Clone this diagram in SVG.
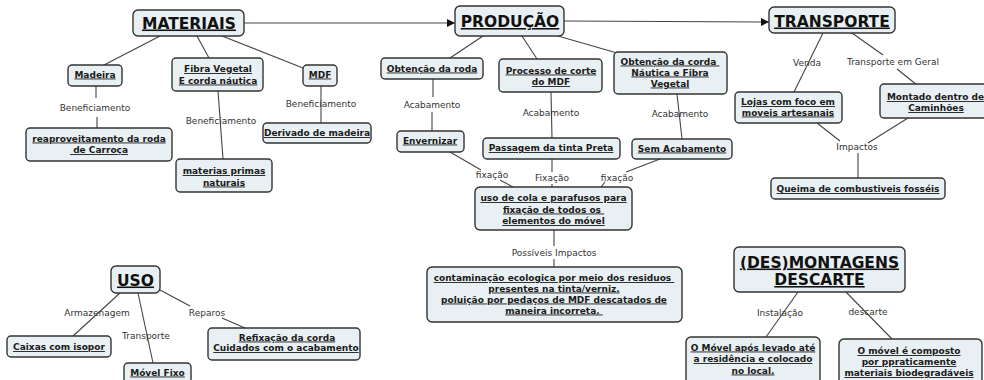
<svg xmlns="http://www.w3.org/2000/svg" width="984" height="380" viewBox="0 0 984 380">
<style>
.box{fill:#e9f0f3;stroke:#333;stroke-width:1.4}
.h{font-family:"DejaVu Sans",Verdana,sans-serif;font-weight:bold;font-size:15.5px;fill:#111;text-anchor:middle;text-decoration:underline}
.t{font-family:"DejaVu Sans",Verdana,sans-serif;font-weight:bold;font-size:9px;fill:#1a1a1a;text-anchor:middle;text-decoration:underline;white-space:pre}
.l{font-family:"DejaVu Sans",Verdana,sans-serif;font-size:9px;fill:#333;text-anchor:middle}
.c{stroke:#444;stroke-width:1.1;fill:none}
</style>
<defs>
<marker id="arr" viewBox="0 0 10 10" refX="10" refY="5" markerWidth="8" markerHeight="8" markerUnits="userSpaceOnUse" orient="auto">
<path d="M0,0 L10,5 L0,10 z" fill="#111"/>
</marker>
</defs>
<rect width="984" height="380" fill="#ffffff"/>
<g id="connectors">
<path class="c" d="M244,23 L455,23" marker-end="url(#arr)"/>
<path class="c" d="M564,21 L769,22" marker-end="url(#arr)"/>
<path class="c" d="M160,36 L104,65"/>
<path class="c" d="M197,36 L209,58"/>
<path class="c" d="M222,36 L303,68"/>
<path class="c" d="M96,86 L96,98 M97,117 L97,128"/>
<path class="c" d="M218,91 L223,159"/>
<path class="c" d="M321,86 L321,123"/>
<path class="c" d="M483,36 L450,58"/>
<path class="c" d="M522,36 L537,59"/>
<path class="c" d="M558,36 L617,53"/>
<path class="c" d="M433,79 L433,97 M432,112 L432,131"/>
<path class="c" d="M551,92 L552,138"/>
<path class="c" d="M677,94 L682,139"/>
<path class="c" d="M450,152 L481,170 M500,180 L513,187"/>
<path class="c" d="M552,159 L552,172 M552,184 L552,187"/>
<path class="c" d="M660,159 L626,172 M605,182 L601,187"/>
<path class="c" d="M554,230 L554,246 M554,259 L554,267"/>
<path class="c" d="M823,33 L794,92"/>
<path class="c" d="M852,33 L883,55 M897,69 L917,85"/>
<path class="c" d="M817,123 L840,141 M908,118 L868,143 M858,153 L858,178"/>
<path class="c" d="M120,293 L73,336"/>
<path class="c" d="M138,293 L153,363"/>
<path class="c" d="M160,290 L190,306 M222,318 L245,328"/>
<path class="c" d="M798,292 L766,337"/>
<path class="c" d="M846,292 L892,339"/>
</g>
<g id="labels">
<text class="l" x="95" y="110.5">Beneficiamento</text>
<text class="l" x="221" y="123.5">Beneficiamento</text>
<text class="l" x="321" y="106.5">Beneficiamento</text>
<text class="l" x="432" y="107.5">Acabamento</text>
<text class="l" x="551" y="115.5">Acabamento</text>
<text class="l" x="680" y="116.5">Acabamento</text>
<text class="l" x="492" y="177.5">fixação</text>
<text class="l" x="552" y="181">Fixação</text>
<text class="l" x="617" y="181">fixação</text>
<text class="l" x="554" y="255.5">Possíveis Impactos</text>
<text class="l" x="807" y="66">Venda</text>
<text class="l" x="893" y="65">Transporte em Geral</text>
<text class="l" x="857" y="150">Impactos</text>
<text class="l" x="97" y="315.5">Armazenagem</text>
<text class="l" x="146" y="338.5">Transporte</text>
<text class="l" x="207" y="315.5">Reparos</text>
<text class="l" x="780" y="315.5">Instalação</text>
<text class="l" x="868" y="314.5">descarte</text>
</g>
<g id="materiais"><rect class="box" x="133" y="10" width="111" height="26" rx="5"/><text class="h" x="189" y="28.5">MATERIAIS</text></g>
<g id="producao"><rect class="box" x="455" y="6" width="109" height="30" rx="5"/><text class="h" x="510" y="27">PRODUÇÃO</text></g>
<g id="transporte"><rect class="box" x="769" y="7" width="126" height="26" rx="5"/><text class="h" x="832" y="26.5">TRANSPORTE</text></g>
<g id="madeira"><rect class="box" x="68" y="65" width="54" height="21" rx="4"/><text class="t" x="95" y="77.5">Madeira</text></g>
<g id="fibra"><rect class="box" x="172" y="58" width="91" height="33" rx="4"/><text class="t" x="218" y="72">Fibra Vegetal</text><text class="t" x="218" y="83.5">E corda náutica</text></g>
<g id="mdf"><rect class="box" x="303" y="65" width="34" height="21" rx="4"/><text class="t" x="320" y="77.5">MDF</text></g>
<g id="reaproveitamento"><rect class="box" x="26" y="128" width="146" height="33" rx="4"/><text class="t" x="99" y="141.5">reaproveitamento da roda</text><text class="t" x="99" y="153"> de Carroça</text></g>
<g id="materias-primas"><rect class="box" x="176" y="159" width="96" height="33" rx="4"/><text class="t" x="224" y="174">materias primas</text><text class="t" x="224" y="185.5">naturais</text></g>
<g id="derivado"><rect class="box" x="263" y="123" width="108" height="20" rx="4"/><text class="t" x="317" y="136">Derivado de madeira</text></g>
<g id="obtencao-roda"><rect class="box" x="381" y="58" width="102" height="21" rx="4"/><text class="t" x="432" y="71.5">Obtenção da roda</text></g>
<g id="processo-corte"><rect class="box" x="499" y="59" width="103" height="33" rx="4"/><text class="t" x="551" y="73.5">Processo de corte</text><text class="t" x="551" y="85">do MDF</text></g>
<g id="obtencao-corda"><rect class="box" x="614" y="52" width="113" height="42" rx="4"/><text class="t" x="670" y="64.5">Obtenção da corda </text><text class="t" x="670" y="75.5">Náutica e Fibra</text><text class="t" x="670" y="86.5">Vegetal</text></g>
<g id="envernizar"><rect class="box" x="397" y="131" width="67" height="21" rx="4"/><text class="t" x="430" y="143.5">Envernizar</text></g>
<g id="passagem"><rect class="box" x="483" y="138" width="137" height="21" rx="4"/><text class="t" x="551" y="151">Passagem da tinta Preta</text></g>
<g id="sem-acabamento"><rect class="box" x="632" y="139" width="100" height="20" rx="4"/><text class="t" x="682" y="151.5">Sem Acabamento</text></g>
<g id="uso-cola"><rect class="box" x="475" y="187" width="157" height="43" rx="5"/><text class="t" x="553.5" y="201">uso de cola e parafusos para</text><text class="t" x="553.5" y="212.5">fixação de todos os </text><text class="t" x="553.5" y="224">elementos do móvel</text></g>
<g id="contaminacao"><rect class="box" x="427" y="267" width="255" height="55" rx="5"/><text class="t" x="554" y="281">contaminação ecologica por meio dos residuos </text><text class="t" x="554" y="291.5">presentes na tinta/verniz.</text><text class="t" x="554" y="302.5">poluição por pedaços de MDF descatados de</text><text class="t" x="554" y="313.5">maneira incorreta. </text></g>
<g id="lojas"><rect class="box" x="735" y="92" width="107" height="31" rx="4"/><text class="t" x="788" y="105">Lojas com foco em</text><text class="t" x="788" y="115.5">moveis artesanais</text></g>
<g id="montado"><rect class="box" x="880" y="84" width="110" height="34" rx="4"/><text class="t" x="935.5" y="100">Montado dentro de</text><text class="t" x="936" y="111">Caminhões</text></g>
<g id="queima"><rect class="box" x="771" y="178" width="174" height="21" rx="4"/><text class="t" x="858" y="192">Queima de combustiveis fosséis</text></g>
<g id="uso"><rect class="box" x="111" y="266" width="49" height="27" rx="5"/><text class="h" x="135.5" y="285.5">USO</text></g>
<g id="caixas"><rect class="box" x="7" y="336" width="104" height="21" rx="4"/><text class="t" x="59" y="350">Caixas com isopor</text></g>
<g id="movel-fixo"><rect class="box" x="124" y="363" width="67" height="25" rx="4"/><text class="t" x="157.5" y="375.5">Móvel Fixo</text></g>
<g id="refixacao"><rect class="box" x="208" y="328" width="152" height="32" rx="4"/><text class="t" x="287" y="340.5">Refixação da corda</text><text class="t" x="286" y="351">Cuidados com o acabamento</text></g>
<g id="desmontagens"><rect class="box" x="734" y="247" width="171" height="45" rx="5"/><text class="h" x="819.5" y="267.5">(DES)MONTAGENS</text><text class="h" x="819.5" y="285">DESCARTE</text></g>
<g id="movel-apos"><rect class="box" x="686" y="337" width="134" height="50" rx="5"/><text class="t" x="753" y="350.5">O Móvel após levado até</text><text class="t" x="753" y="362">a residência e colocado</text><text class="t" x="753" y="373.5">no local.</text></g>
<g id="movel-composto"><rect class="box" x="839" y="339" width="143" height="50" rx="5"/><text class="t" x="909" y="354">O móvel é composto</text><text class="t" x="909" y="365">por ppraticamente</text><text class="t" x="909" y="376">materiais biodegradáveis</text></g>
</svg>
